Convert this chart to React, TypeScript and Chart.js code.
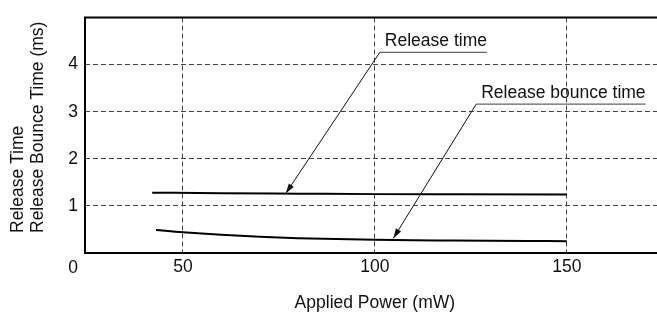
import { useEffect, useRef } from 'react';
import { Chart, registerables } from 'chart.js';

Chart.register(...registerables);

// ---- Data ----
const releasePower = [42, 60, 80, 100, 120, 150];
const releaseTime = [1.28, 1.27, 1.26, 1.25, 1.245, 1.24];
const bouncePower = [43, 50, 60, 70, 80, 90, 100, 110, 120, 130, 140, 150];
const bounceTime = [0.49, 0.44, 0.385, 0.345, 0.315, 0.295, 0.28, 0.27, 0.265, 0.26, 0.255, 0.25];
const xTicks = [50, 100, 150];
const yTicks = [0, 1, 2, 3, 4];
const xTitle = 'Applied Power (mW)';
const yTitleLines = ['Release Time', 'Release Bounce Time (ms)'];
const originLabel = '0';
const calloutLabels = ['Release time', 'Release bounce time'];
const calloutAnchorX = [101.3, 126.4];
const calloutAnchorY = [4.26, 3.16];
const calloutTipX = [76.8, 104.8];
const calloutTipY = [1.265, 0.31];

const FONT = "'Liberation Sans', Arial, Helvetica, sans-serif";
const FONT_SIZE = 17.5;

const decorPlugin = {
  id: 'decor',
  afterDatasetsDraw(chart: any) {
    const { ctx, chartArea } = chart;
    const xs = chart.scales.x;
    const ys = chart.scales.y;
    ctx.save();
    // frame: top, left, bottom
    ctx.strokeStyle = '#000';
    ctx.lineWidth = 2;
    ctx.setLineDash([]);
    ctx.beginPath();
    ctx.moveTo(chart.width, chartArea.top);
    ctx.lineTo(chartArea.left, chartArea.top);
    ctx.lineTo(chartArea.left, chartArea.bottom);
    ctx.lineTo(chart.width, chartArea.bottom);
    ctx.stroke();

    // callouts
    ctx.font = `${FONT_SIZE}px ${FONT}`;
    ctx.textAlign = 'left';
    ctx.textBaseline = 'alphabetic';
    for (let i = 0; i < calloutLabels.length; i++) {
      const ax = xs.getPixelForValue(calloutAnchorX[i]);
      const ay = ys.getPixelForValue(calloutAnchorY[i]);
      const tx = xs.getPixelForValue(calloutTipX[i]);
      const ty = ys.getPixelForValue(calloutTipY[i]);
      const textX = ax + 5;
      const w = ctx.measureText(calloutLabels[i]).width;
      ctx.fillStyle = '#111';
      ctx.fillText(calloutLabels[i], textX, ay - 6.5);
      // underline
      ctx.strokeStyle = '#666';
      ctx.lineWidth = 1.2;
      ctx.beginPath();
      ctx.moveTo(ax, ay);
      ctx.lineTo(textX + w, ay);
      ctx.stroke();
      // arrow shaft
      ctx.strokeStyle = '#111';
      ctx.lineWidth = 1;
      ctx.beginPath();
      ctx.moveTo(ax, ay);
      ctx.lineTo(tx, ty);
      ctx.stroke();
      // arrow head
      const ang = Math.atan2(ty - ay, tx - ax);
      const L = 10, H = 3;
      ctx.fillStyle = '#111';
      ctx.beginPath();
      ctx.moveTo(tx, ty);
      ctx.lineTo(tx - L * Math.cos(ang) + H * Math.sin(ang), ty - L * Math.sin(ang) - H * Math.cos(ang));
      ctx.lineTo(tx - L * Math.cos(ang) - H * Math.sin(ang), ty - L * Math.sin(ang) + H * Math.cos(ang));
      ctx.closePath();
      ctx.fill();
    }

    // axis titles
    ctx.fillStyle = '#111';
    ctx.textAlign = 'center';
    ctx.textBaseline = 'alphabetic';
    const midX = (xs.getPixelForValue(xTicks[0]) + xs.getPixelForValue(xTicks[xTicks.length - 1])) / 2;
    ctx.fillText(xTitle, midX, 308);

    const yStart = chartArea.bottom - 20;
    yTitleLines.forEach((line, i) => {
      ctx.save();
      ctx.translate(18 + i * 20, yStart);
      ctx.rotate(-Math.PI / 2);
      ctx.textAlign = 'left';
      ctx.textBaseline = 'middle';
      ctx.fillText(line, 0, 0);
      ctx.restore();
    });

    // origin label
    ctx.textAlign = 'right';
    ctx.textBaseline = 'middle';
    ctx.fillText(originLabel, chartArea.left - 7, chartArea.bottom + 15);
    ctx.restore();
  },
};

export default function App() {
  const ref = useRef<HTMLCanvasElement>(null);
  useEffect(() => {
    if (!ref.current) return;
    const chart = new Chart(ref.current, {
      type: 'line',
      data: {
        datasets: [
          {
            label: 'Release time',
            data: releasePower.map((x, i) => ({ x, y: releaseTime[i] })),
            borderColor: '#000',
            borderWidth: 2,
            pointRadius: 0,
            cubicInterpolationMode: 'monotone',
            fill: false,
          },
          {
            label: 'Release bounce time',
            data: bouncePower.map((x, i) => ({ x, y: bounceTime[i] })),
            borderColor: '#000',
            borderWidth: 2,
            pointRadius: 0,
            cubicInterpolationMode: 'monotone',
            fill: false,
          },
        ],
      },
      options: {
        animation: false,
        responsive: false,
        maintainAspectRatio: false,
        layout: { padding: { top: 8.5, left: 0, right: 0, bottom: 0 } },
        plugins: { legend: { display: false }, tooltip: { enabled: false } },
        scales: {
          x: {
            type: 'linear',
            min: 24.5,
            max: 173.5,
            afterBuildTicks: (s: any) => { s.ticks = xTicks.map((v) => ({ value: v })); },
            afterFit: (s: any) => { s.height = 62; },
            ticks: {
              color: '#111',
              padding: 4,
              font: { family: FONT, size: FONT_SIZE },
              callback: (v: any) => String(v),
            },
            grid: { color: '#444', lineWidth: 1, drawTicks: false },
            border: { display: false, dash: [5, 3] },
          },
          y: {
            type: 'linear',
            min: 0,
            max: 5,
            afterBuildTicks: (s: any) => { s.ticks = yTicks.map((v) => ({ value: v })); },
            afterFit: (s: any) => { s.width = 85; },
            ticks: {
              color: '#111',
              padding: 7,
              font: { family: FONT, size: FONT_SIZE },
              callback: (v: any) => (v === 0 ? '' : String(v)),
            },
            grid: {
              color: (c: any) => (c.tick && c.tick.value === 0 ? 'rgba(0,0,0,0)' : '#444'),
              lineWidth: 1,
              drawTicks: false,
            },
            border: { display: false, dash: [5, 3] },
          },
        },
      },
      plugins: [decorPlugin],
    } as any);
    return () => chart.destroy();
  }, []);
  return (
    <div style={{ position: 'fixed', left: 0, top: 0, width: 657, height: 315, background: '#fff' }}>
      <canvas ref={ref} width={657} height={315} style={{ display: 'block' }} />
    </div>
  );
}
